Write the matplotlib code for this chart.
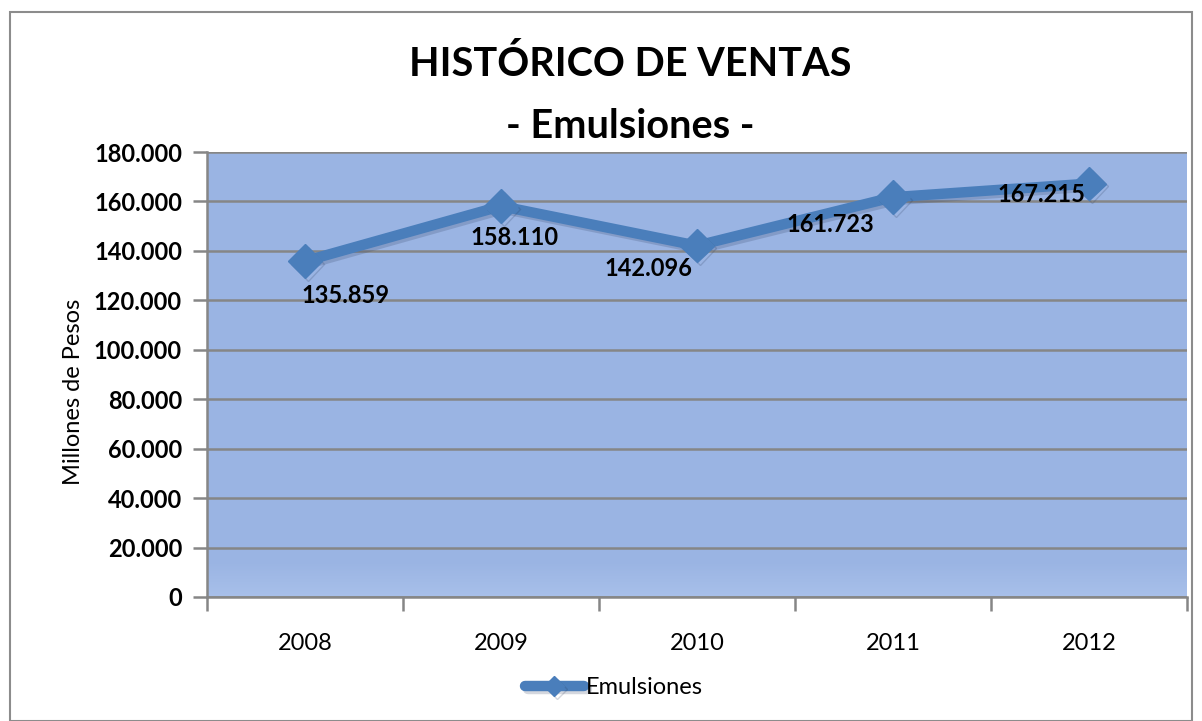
import numpy as np
import matplotlib
matplotlib.use("Agg")
import matplotlib.pyplot as plt
import matplotlib.patheffects as pe
from matplotlib.patches import Rectangle
from matplotlib.ticker import FuncFormatter

years = ["2008", "2009", "2010", "2011", "2012"]
ventas = [135859, 158110, 142096, 161723, 167215]
value_labels = ["135.859", "158.110", "142.096", "161.723", "167.215"]
series_name = "Emulsiones"
yticks = [0, 20000, 40000, 60000, 80000, 100000, 120000, 140000, 160000, 180000]

# label offsets in pixels (style)
label_offsets = [(41, -34), (14, -31), (-49, -23), (-63, -27), (-48, -11)]

plt.rcParams['font.family'] = ['Lato', 'DejaVu Sans']

fig = plt.figure(figsize=(12.02, 7.21), dpi=100)
fig.patch.set_facecolor('white')
# outer border
fig.add_artist(Rectangle((10/1202, 0), 1-20/1202, 1-12/721, transform=fig.transFigure,
                         fill=False, edgecolor='#8c8c8c', linewidth=1.5))

ax = fig.add_axes([207/1202, 124/721, 980/1202, 445/721])
ax.set_facecolor('#9AB4E3')
# light gradient at bottom of plot area
grad = np.linspace(0, 1, 100).reshape(-1, 1)
cmap = matplotlib.colors.LinearSegmentedColormap.from_list('g', ['#A8C0EA', '#9AB4E3'])
ax.imshow(grad, extent=[0, 1, 0, 0.08], transform=ax.transAxes, cmap=cmap,
          aspect='auto', origin='lower', zorder=0)

x = np.arange(1, len(years) + 1)
ax.plot(x, ventas, color='#4A7EBB', linewidth=7.5, marker='D', markersize=17,
        markeredgecolor='#4A7EBB', solid_capstyle='round', zorder=3,
        path_effects=[pe.SimpleLineShadow(offset=(2, -2), shadow_color='#2a3a5a', alpha=0.2), pe.Normal()],
        label=series_name)

for xi, v, lab, off in zip(x, ventas, value_labels, label_offsets):
    ax.annotate(lab, (xi, v), xytext=off, textcoords='offset pixels', ha='center', va='center',
                fontsize=17, fontweight='bold', color='black', zorder=4)

ax.set_xlim(0.5, len(years) + 0.5)
ax.set_ylim(0, 180000)
ax.set_yticks(yticks)
ax.yaxis.set_major_formatter(FuncFormatter(lambda v, p: "0" if v == 0 else f"{int(v):,}".replace(",", ".")))
ax.grid(axis='y', color='#868686', linewidth=1.8, zorder=1)
ax.set_axisbelow(True)

ax.set_xticks(x)
ax.set_xticklabels(years)
ax.set_xticks(np.arange(0.5, len(years) + 1, 1), minor=True)
ax.tick_params(axis='x', which='major', length=0, pad=26, labelsize=17)
ax.tick_params(axis='x', which='minor', length=10, width=1.8, color='#868686')
ax.tick_params(axis='y', length=10, width=1.8, color='#868686', labelsize=17, pad=8)
for t in ax.get_yticklabels():
    t.set_fontweight('bold')

for s in ['top', 'right']:
    ax.spines[s].set_visible(False)
for s in ['left', 'bottom']:
    ax.spines[s].set_color('#868686')
    ax.spines[s].set_linewidth(1.8)

ax.set_ylabel("Millones de Pesos", fontsize=17)
ax.yaxis.set_label_coords(-0.126, 0.46)

fig.text(630/1202, 1 - 64/721, "HISTÓRICO DE VENTAS", ha='center', va='center',
         fontsize=28.5, fontweight='bold')
fig.text(630/1202, 1 - 126/721, "- Emulsiones -", ha='center', va='center',
         fontsize=28.5, fontweight='bold')

leg = fig.legend(loc='center', bbox_to_anchor=(614/1202, 1 - 688/721), frameon=False,
                 fontsize=17, handlelength=2.5, handletextpad=0.1, markerscale=0.6)

fig.savefig("out.png", dpi=100)
